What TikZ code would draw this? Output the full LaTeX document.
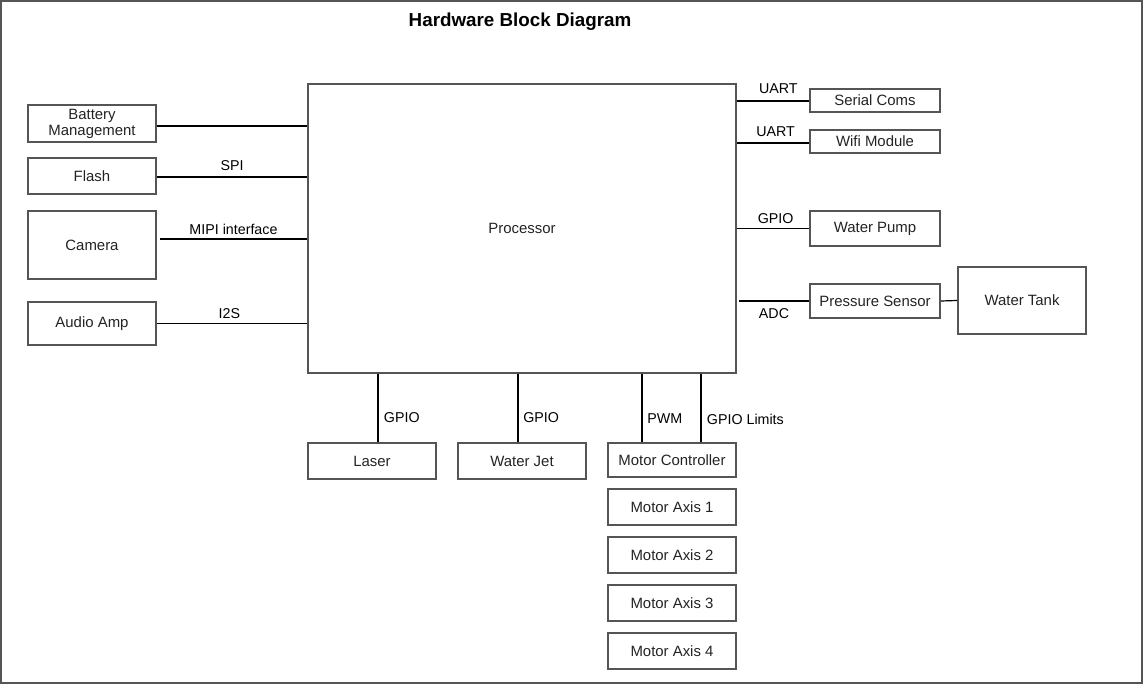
\documentclass[tikz,border=0pt]{standalone}
\usepackage{fontspec}
\setmainfont{Liberation Sans}
\usetikzlibrary{positioning, calc}
\definecolor{cEdge}{RGB}{85,85,85}
\definecolor{cText}{RGB}{35,35,35}
\tikzset{
	blk/.style ={rectangle, draw=cEdge, line width=1.3pt, inner sep=1pt, align=center, text=cText, minimum width=96pt},
	wire/.style={line width=0.9pt, black},
	lbl/.style ={font=\fontsize{10.7}{12}\selectfont, inner sep=2pt, text=black},
}
\begin{document}
\begin{tikzpicture}[x=0.75pt, y=-0.75pt, font=\fontsize{11.2}{12.5}\selectfont]
	\useasboundingbox (0,0) rectangle (1143,684);
	\draw[cEdge, line width=1.5pt] (1,1) rectangle (1142,683);
	\node[font=\bfseries\fontsize{14.1}{16}\selectfont] (title) at (520,22) {Hardware Block Diagram};
	% processor and left side
	\node[blk, minimum width=321pt, minimum height=216.75pt] (proc) at (522,228.5) {Processor};
	\node[blk, minimum height=27.75pt, font=\fontsize{11.2}{12}\selectfont] (batt) at (92,123.5) {Battery\\Management};
	\node[blk, minimum height=27pt] (flash) at (92,176) {Flash};
	\node[blk, minimum height=51pt] (cam) at (92,245) {Camera};
	\node[blk, minimum height=32.25pt] (amp) at (92,323.5) {Audio Amp};
	% right side
	\node[blk, minimum width=97.5pt, minimum height=17.25pt] (serial) at (875,100.5) {Serial Coms};
	\node[blk, minimum width=97.5pt, minimum height=17.25pt] (wifi) at (875,141.5) {Wifi Module};
	\node[blk, minimum width=97.5pt, minimum height=26.25pt] (pump) at (875,228.5) {Water Pump};
	\node[blk, minimum width=97.5pt, minimum height=25.5pt] (press) at (875,301) {Pressure Sensor};
	\node[blk, minimum height=50.25pt] (tank) at (1022,300.5) {Water Tank};
	% bottom
	\node[blk, minimum height=27pt] (laser) at (372,461) {Laser};
	\node[blk, minimum height=27pt] (jet) at (522,461) {Water Jet};
	\node[blk, minimum height=25.5pt] (mctl) at (672,460) {Motor Controller};
	\foreach \i in {1,...,4}
		\node[blk, minimum height=27pt] (ax\i) at (672,459+48*\i) {Motor Axis \i};
	% connectors left
	\draw[wire] ([yshift=-1.9pt]batt.east) -- ([yshift=-1.9pt]batt.east -| proc.west);
	\draw[wire] ([yshift=-0.75pt]flash.east) -- ([yshift=-0.75pt]flash.east -| proc.west) node[lbl, midway, above=2pt] {SPI};
	\coordinate (camOut) at ($(cam.east)+(3,-6)$);
	\draw[wire] (camOut) -- (camOut -| proc.west) node[lbl, midway, above=1pt] {MIPI interface};
	\draw[wire] (amp.east) -- (amp.east -| proc.west) node[lbl, midway, above=1pt, xshift=-2pt] {I2S};
	% connectors right
	\draw[wire] ([yshift=-0.4pt]serial.west) -- ([yshift=-0.4pt]serial.west -| proc.east) node[lbl, midway, above=3pt, xshift=4pt] {UART};
	\draw[wire] ([yshift=-1.1pt]wifi.west) -- ([yshift=-1.1pt]wifi.west -| proc.east) node[lbl, midway, above=2pt, xshift=2pt] {UART};
	\draw[wire] (pump.west) -- (pump.west -| proc.east) node[lbl, midway, above=1.5pt, xshift=2pt] {GPIO};
	\coordinate (adcIn) at ($(proc.east)+(2,0)$);
	\draw[wire] (press.west) -- (press.west -| adcIn) node[lbl, midway, below=3pt] {ADC};
	\draw[wire] (press.east) -- (tank.west);
	% connectors bottom
	\coordinate (lsrTop) at ($(laser.north)+(6,0)$);
	\coordinate (jetTop) at ($(jet.north)+(-4,0)$);
	\coordinate (pwmTop) at ($(mctl.north)+(-30,0)$);
	\coordinate (limTop) at ($(mctl.north)+(29,0)$);
	\draw[wire] (lsrTop) -- (lsrTop |- proc.south) node[lbl, right=2pt, pos=0.36] {GPIO};
	\draw[wire] (jetTop) -- (jetTop |- proc.south) node[lbl, right=1.5pt, pos=0.36] {GPIO};
	\draw[wire] (pwmTop) -- (pwmTop |- proc.south) node[lbl, right=1.5pt, pos=0.34] {PWM};
	\draw[wire] (limTop) -- (limTop |- proc.south) node[lbl, right=2pt, pos=0.34] {GPIO Limits};
\end{tikzpicture}
\end{document}
